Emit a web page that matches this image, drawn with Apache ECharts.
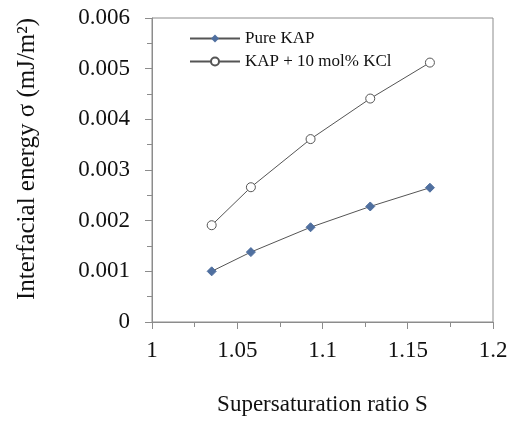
<!DOCTYPE html>
<html>
<head>
<meta charset="utf-8">
<script src="https://cdn.jsdelivr.net/npm/echarts@6/dist/echarts.min.js"></script>
<style>
  html, body { margin: 0; padding: 0; background: #fff; }
  #main { width: 512px; height: 421px; }
</style>
</head>
<body>
<div id="main"></div>
<script>
  // supersaturation ratio S
  const ratioS = [1.035, 1.058, 1.093, 1.128, 1.163]
  // interfacial energy (mJ/m2)
  const pureKAP = [0.00100, 0.00138, 0.00187, 0.00228, 0.00265]
  const kapKCl = [0.00191, 0.00266, 0.00361, 0.00441, 0.00512]

  const font = 'Liberation Serif'
  const axisGray = '#8c8c8c'

  const toPairs = (xs, ys) => xs.map((x, i) => [x, ys[i]])

  const chart = echarts.init(document.getElementById('main'))
  chart.setOption({
    backgroundColor: '#fff',
    animation: false,
    textStyle: { fontFamily: font },
    grid: {
      left: 152, right: 19, top: 18, bottom: 97,
      show: true, borderColor: axisGray, borderWidth: 1
    },
    legend: {
      orient: 'vertical',
      left: 184, top: 25,
      itemWidth: 50, itemHeight: 10, itemGap: 6,
      textStyle: { fontFamily: font, fontSize: 17, color: '#111' },
      data: ['Pure KAP', 'KAP + 10 mol% KCl']
    },
    xAxis: {
      type: 'value',
      min: 1, max: 1.2, interval: 0.05,
      name: 'Supersaturation ratio S',
      nameLocation: 'middle', nameGap: 71,
      nameTextStyle: { fontFamily: font, fontSize: 23, color: '#111' },
      axisLine: { show: true, onZero: false, lineStyle: { color: axisGray } },
      axisTick: { show: true, length: 7, lineStyle: { color: axisGray } },
      minorTick: { show: true, splitNumber: 2, length: 5, lineStyle: { color: axisGray } },
      axisLabel: { margin: 17, fontFamily: font, fontSize: 23, color: '#111' },
      splitLine: { show: false }
    },
    yAxis: {
      type: 'value',
      min: 0, max: 0.006, interval: 0.001,
      name: 'Interfacial energy σ (mJ/m²)',
      nameLocation: 'middle', nameGap: 112,
      nameTextStyle: { fontFamily: font, fontSize: 25, color: '#111', padding: [0, 0, 0, 22] },
      axisLine: { show: true, lineStyle: { color: axisGray } },
      axisTick: { show: true, length: 7, lineStyle: { color: axisGray } },
      minorTick: { show: true, splitNumber: 2, length: 5, lineStyle: { color: axisGray } },
      axisLabel: { margin: 22, fontFamily: font, fontSize: 23, color: '#111' },
      splitLine: { show: false }
    },
    series: [
      {
        name: 'Pure KAP',
        type: 'line',
        data: toPairs(ratioS, pureKAP),
        symbol: 'diamond',
        symbolSize: 9,
        itemStyle: { color: '#4f6f9f', borderColor: '#4f6f9f' },
        lineStyle: { color: '#555', width: 1 }
      },
      {
        name: 'KAP + 10 mol% KCl',
        type: 'line',
        data: toPairs(ratioS, kapKCl),
        symbol: 'circle',
        symbolSize: 9,
        itemStyle: { color: '#fff', borderColor: '#555', borderWidth: 1 },
        lineStyle: { color: '#555', width: 1 }
      }
    ]
  })
</script>
</body>
</html>
